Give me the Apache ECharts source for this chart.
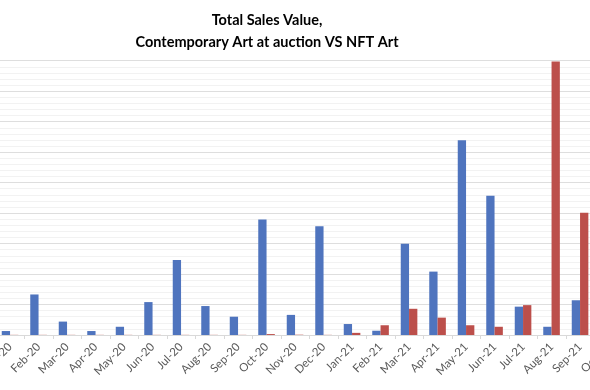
<!DOCTYPE html>
<html>
<head>
<meta charset="utf-8">
<script src="https://cdn.jsdelivr.net/npm/echarts@6/dist/echarts.min.js"></script>
<style>html,body{margin:0;padding:0;background:#fff;}#c{width:590px;height:390px;}</style>
</head>
<body>
<div id="c"></div>
<script>
const categories = ['Jan-20','Feb-20','Mar-20','Apr-20','May-20','Jun-20','Jul-20','Aug-20','Sep-20','Oct-20','Nov-20','Dec-20',
  'Jan-21','Feb-21','Mar-21','Apr-21','May-21','Jun-21','Jul-21','Aug-21','Sep-21','Oct-21'];
const contemporaryArt = [13,133,44,13,27,108,246,95,60,379,66,357,36,14,299,208,639,457,93,27,114,0];
const nftArt = [0.5,0.5,0.5,0.5,0.5,0.5,0.5,0.5,0.5,3,1,0.5,7,32,86,57,32,27,98,897,401,0];
const yMax = 900, yInterval = 100;

const chart = echarts.init(document.getElementById('c'), null, {renderer:'canvas'});
chart.setOption({
  animation: false,
  backgroundColor: '#ffffff',
  title: {
    text: 'Total Sales Value,\nContemporary Art at auction VS NFT Art',
    left: 262, top: 4, textAlign: 'center',
    textStyle: {fontFamily: 'Lato', fontWeight: 'bold', fontSize: 14.5, lineHeight: 22, color: '#000'}
  },
  grid: {left: -4.2, right: -32.8, top: 60.7, bottom: 55, containLabel: false, outerBoundsMode: 'none'},
  xAxis: {
    type: 'category', data: categories,
    axisLine: {lineStyle: {color: '#d9d9d9'}},
    axisTick: {show: true, length: 4, lineStyle: {color: '#d9d9d9'}},
    axisLabel: {rotate: 45, interval: 0, color: '#595959', fontFamily: 'Lato', fontSize: 11.5, margin: 10}
  },
  yAxis: {
    type: 'value', min: 0, max: yMax, interval: yInterval,
    axisLabel: {show: false}, axisLine: {show: false}, axisTick: {show: false},
    splitLine: {lineStyle: {color: '#dedede'}},
    minorTick: {show: false, splitNumber: 5},
    minorSplitLine: {show: true, lineStyle: {color: '#f2f2f2'}}
  },
  series: [
    {type: 'bar', name: 'Contemporary Art', data: contemporaryArt, barWidth: 8.3, barGap: '0%', itemStyle: {color: '#4f74be'}},
    {type: 'bar', name: 'NFT Art', data: nftArt, barWidth: 8.3, barGap: '0%', itemStyle: {color: '#bc4f4b'}}
  ]
});
</script>
</body>
</html>
